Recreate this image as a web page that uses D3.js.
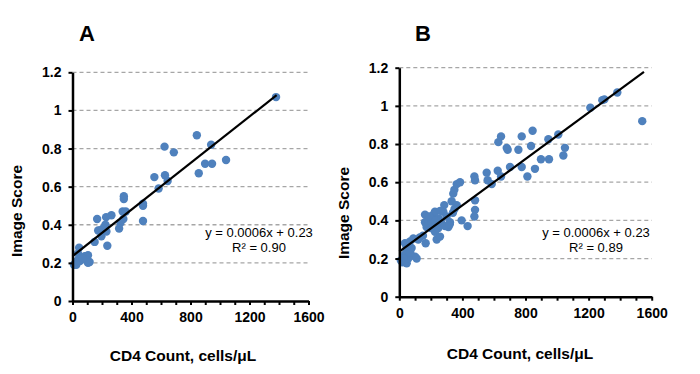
<!DOCTYPE html>
<html lang="en">
  <head>
    <meta charset="UTF-8" />
    <title>Image Score vs CD4 Count</title>
    <script src="https://d3js.org/d3.v7.min.js"></script>
    <style>
      body {
        margin: 0;
        background: #fff;
      }
      svg {
        font-family: "Liberation Sans", Arial, sans-serif;
      }
      .axis path,
      .axis line {
        stroke: #000;
      }
      .axis path {
        stroke-width: 2.5;
      }
      .axis line {
        stroke-width: 2;
      }
      .axis text {
        font-size: 14px;
        font-weight: bold;
        fill: #000;
      }
      .grid {
        stroke: #a6a6a6;
        stroke-width: 1.3;
        stroke-dasharray: 4 3;
      }
      .dot {
        fill: #4f81bd;
      }
      .trend {
        stroke: #000;
        stroke-width: 2.2;
      }
      .title {
        font-size: 15.5px;
        font-weight: bold;
      }
      .panel-label {
        font-size: 22px;
        font-weight: bold;
      }
      .eq {
        font-size: 13px;
      }
    </style>
  </head>
  <body>
    <svg width="700" height="374"></svg>
    <script>
      // data: [CD4 count, image score]
      var pointsA = [
        [1380, 1.07], [843, 0.87], [940, 0.82], [624, 0.81], [687, 0.78],
        [1041, 0.74], [899, 0.72], [946, 0.72], [856, 0.67], [555, 0.65],
        [627, 0.66], [645, 0.63], [584, 0.59], [348, 0.55], [348, 0.535],
        [478, 0.51], [478, 0.5], [478, 0.42], [340, 0.47], [361, 0.47],
        [345, 0.43], [325, 0.41], [316, 0.38], [167, 0.43], [264, 0.45],
        [228, 0.44], [185, 0.37], [207, 0.38], [223, 0.4], [196, 0.34],
        [236, 0.29], [150, 0.31], [174, 0.37], [230, 0.365],
        [20, 0.2], [37, 0.215], [26, 0.19], [45, 0.28], [37, 0.25],
        [60, 0.225], [83, 0.235], [105, 0.24], [94, 0.215], [116, 0.205],
        [105, 0.2], [10, 0.19], [50, 0.21], [70, 0.22]
      ];

      var pointsB = [
        [19, 0.18], [47, 0.175], [33, 0.22], [57, 0.235], [36, 0.28],
        [68, 0.29], [89, 0.305], [100, 0.21], [110, 0.2], [78, 0.255],
        [57, 0.2], [25, 0.2], [10, 0.19], [45, 0.25], [70, 0.23],
        [163, 0.43], [163, 0.39], [173, 0.365], [167, 0.28], [184, 0.4],
        [205, 0.385], [216, 0.43], [226, 0.445], [226, 0.34], [237, 0.3],
        [248, 0.36], [258, 0.315], [268, 0.385], [279, 0.445], [285, 0.48],
        [300, 0.42], [311, 0.365], [321, 0.39], [332, 0.5], [342, 0.54],
        [349, 0.56], [364, 0.48], [364, 0.59], [385, 0.6], [395, 0.4],
        [433, 0.37], [476, 0.63], [480, 0.61], [480, 0.505], [480, 0.455],
        [476, 0.42], [200, 0.36], [250, 0.41], [290, 0.37], [320, 0.38],
        [260, 0.45], [150, 0.32], [130, 0.31], [350, 0.46], [340, 0.44],
        [120, 0.3], [190, 0.42], [230, 0.4],
        [554, 0.65], [560, 0.61], [586, 0.59], [624, 0.66], [645, 0.63],
        [628, 0.81], [645, 0.84], [681, 0.78], [687, 0.77], [702, 0.68],
        [755, 0.77], [776, 0.84], [776, 0.68], [812, 0.63], [835, 0.79],
        [845, 0.87], [860, 0.67], [898, 0.72], [949, 0.72], [945, 0.825],
        [1008, 0.85], [1040, 0.74], [1050, 0.78], [1211, 0.99], [1287, 1.03],
        [1300, 1.034], [1382, 1.07], [1540, 0.92]
      ];

      // linear trend line end points
      var trendA = [[0, 0.235], [1384, 1.08]];
      var trendB = [[0, 0.236], [1551, 1.178]];

      var xTicks = [0, 400, 800, 1200, 1600];
      var xMinorStep = 100;
      var yTicks = [0, 0.2, 0.4, 0.6, 0.8, 1, 1.2];

      var eqA = ["y = 0.0006x + 0.23", "R\u00b2 = 0.90"];
      var eqB = ["y = 0.0006x + 0.23", "R\u00b2 = 0.89"];

      var svg = d3.select("svg");

      function drawPanel(opt) {
        var x = d3.scaleLinear().domain([0, 1600]).range([opt.left, opt.right]);
        var y = d3.scaleLinear().domain([0, 1.2]).range([opt.bottom, opt.top]);
        var g = svg.append("g");

        // dashed gridlines
        g.append("g")
          .selectAll("line")
          .data(yTicks.filter(function (d) { return d > 0; }))
          .enter()
          .append("line")
          .attr("class", "grid")
          .attr("x1", x(0))
          .attr("x2", x(1600))
          .attr("y1", function (d) { return y(d); })
          .attr("y2", function (d) { return y(d); });

        // points
        g.append("g")
          .selectAll("circle")
          .data(opt.points)
          .enter()
          .append("circle")
          .attr("class", "dot")
          .attr("r", 4.2)
          .attr("cx", function (d) { return x(d[0]); })
          .attr("cy", function (d) { return y(d[1]); });

        // trend line
        g.append("line")
          .attr("class", "trend")
          .attr("x1", x(opt.trend[0][0]))
          .attr("y1", y(opt.trend[0][1]))
          .attr("x2", x(opt.trend[1][0]))
          .attr("y2", y(opt.trend[1][1]));

        // axes
        g.append("g")
          .attr("class", "axis")
          .attr("transform", "translate(0," + opt.bottom + ")")
          .call(
            d3.axisBottom(x)
              .tickValues(d3.range(0, 1601, xMinorStep))
              .tickSize(4)
              .tickSizeOuter(0)
              .tickPadding(7)
              .tickFormat(function (d) { return xTicks.indexOf(d) >= 0 ? d : ""; })
          );

        g.append("g")
          .attr("class", "axis")
          .attr("transform", "translate(" + opt.left + ",0)")
          .call(
            d3.axisLeft(y)
              .tickValues(yTicks)
              .tickSize(4)
              .tickSizeOuter(0)
              .tickPadding(7)
              .tickFormat(function (d) { return String(d); })
          );

        // titles
        g.append("text")
          .attr("class", "title")
          .attr("text-anchor", "middle")
          .attr("x", opt.xTitle[0])
          .attr("y", opt.xTitle[1])
          .text("CD4 Count, cells/\u03bcL");

        g.append("text")
          .attr("class", "title")
          .attr("text-anchor", "middle")
          .attr("dy", "0.35em")
          .attr("transform", "translate(" + opt.yTitle[0] + "," + opt.yTitle[1] + ") rotate(-90)")
          .text("Image Score");

        g.append("text")
          .attr("class", "panel-label")
          .attr("text-anchor", "middle")
          .attr("x", opt.label[0])
          .attr("y", opt.label[1])
          .text(opt.name);

        // regression equation
        g.append("g")
          .selectAll("text")
          .data(opt.eq)
          .enter()
          .append("text")
          .attr("class", "eq")
          .attr("text-anchor", "middle")
          .attr("x", opt.eqPos[0])
          .attr("y", function (d, i) { return opt.eqPos[1] + i * 15; })
          .text(function (d) { return d; });
      }

      drawPanel({
        name: "A",
        points: pointsA,
        trend: trendA,
        eq: eqA,
        left: 72.5, right: 308.5, top: 72.3, bottom: 301,
        xTitle: [183, 361], yTitle: [17, 211], label: [87, 41], eqPos: [259, 236.5]
      });

      drawPanel({
        name: "B",
        points: pointsB,
        trend: trendB,
        eq: eqB,
        left: 399.3, right: 651.7, top: 67.7, bottom: 296.7,
        xTitle: [520, 358.5], yTitle: [343.5, 213], label: [423, 41], eqPos: [596, 236.5]
      });
    </script>
  </body>
</html>
